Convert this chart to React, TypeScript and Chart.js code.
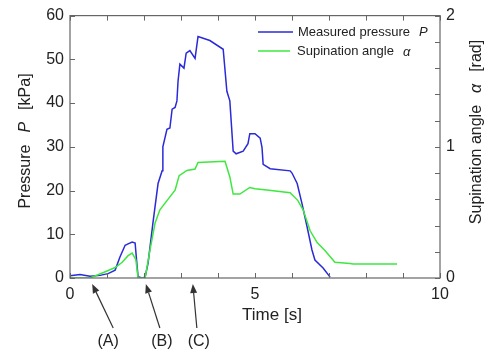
import React, { useEffect, useRef } from "react";
import { Chart, registerables } from "chart.js";

Chart.register(...registerables);

// Measured pressure P [kPa] vs time [s]
const timeP = [0, 0.27, 0.54, 0.81, 1.03, 1.22, 1.35, 1.49, 1.57, 1.68, 1.76, 1.81, 1.84, 1.95, 2.03, 2.11, 2.24, 2.38, 2.49, 2.51, 2.62, 2.7, 2.76, 2.84, 2.89, 2.92, 2.97, 3.08, 3.14, 3.24, 3.38, 3.46, 3.78, 4.14, 4.24, 4.32, 4.41, 4.49, 4.68, 4.81, 4.86, 5.0, 5.14, 5.19, 5.22, 5.41, 5.95, 6.0, 6.14, 6.27, 6.41, 6.54, 6.62, 6.84, 7.03];
const pressure = [0.5, 0.8, 0.4, 0.6, 1.0, 1.8, 4.8, 7.5, 7.8, 8.2, 8.0, 3.0, 0.3, 0.0, 0.2, 3.4, 12.5, 21.6, 24.5, 30, 34, 34.3, 38.6, 39, 40.5, 45, 48.9, 48, 51.4, 52, 50.2, 55.2, 54.3, 52.3, 42.7, 40.5, 29, 28.4, 29, 30.7, 33, 33, 32, 29.8, 26, 25, 24.5, 24, 21.6, 17, 11.6, 6.4, 4.1, 2.3, 0.2];

// Supination angle alpha [rad] vs time [s]
const timeA = [0, 0.54, 0.89, 1.22, 1.41, 1.57, 1.68, 1.78, 1.84, 2.03, 2.16, 2.3, 2.43, 2.62, 2.84, 2.95, 3.16, 3.38, 3.46, 4.19, 4.32, 4.41, 4.59, 4.86, 5.0, 5.32, 5.95, 6.16, 6.3, 6.49, 6.68, 6.89, 7.16, 7.57, 7.65, 8.84];
const angle = [0.0, 0.0, 0.04, 0.08, 0.12, 0.17, 0.19, 0.14, 0.0, 0.0, 0.21, 0.42, 0.52, 0.59, 0.67, 0.78, 0.82, 0.83, 0.88, 0.89, 0.77, 0.64, 0.64, 0.69, 0.68, 0.67, 0.65, 0.59, 0.52, 0.36, 0.27, 0.21, 0.12, 0.11, 0.106, 0.106];

const xLabelled = [0, 5, 10];
const annotLabels = ["(A)", "(B)", "(C)"];
const annotTimes = [0.6, 2.05, 3.32];

const BLUE = "#2a2ad8";
const GREEN = "#3ee83e";
const FONT = "'Liberation Sans', Arial, sans-serif";

const isInt = (v: number) => Math.abs(v - Math.round(v)) < 1e-6;

const decor = {
  id: "decor",
  afterDraw(chart: any) {
    const ctx = chart.ctx as CanvasRenderingContext2D;
    const { left, right, top, bottom } = chart.chartArea;
    const xs = chart.scales.x;
    const ys = chart.scales.y;
    const y1 = chart.scales.y1;
    ctx.save();
    // frame
    ctx.strokeStyle = "#666";
    ctx.lineWidth = 1.2;
    ctx.strokeRect(left, top, right - left, bottom - top);
    // inner ticks
    ctx.lineWidth = 1;
    ctx.beginPath();
    xs.ticks.forEach((t: any) => {
      const px = Math.round(xs.getPixelForValue(t.value)) + 0.5;
      ctx.moveTo(px, bottom); ctx.lineTo(px, bottom - 5);
      ctx.moveTo(px, top); ctx.lineTo(px, top + 5);
    });
    ys.ticks.forEach((t: any) => {
      const py = Math.round(ys.getPixelForValue(t.value)) + 0.5;
      ctx.moveTo(left, py); ctx.lineTo(left + 5, py);
    });
    y1.ticks.forEach((t: any) => {
      const py = Math.round(y1.getPixelForValue(t.value)) + 0.5;
      ctx.moveTo(right, py); ctx.lineTo(right - 5, py);
    });
    ctx.stroke();

    // legend
    ctx.lineWidth = 1.5;
    ctx.strokeStyle = BLUE;
    ctx.beginPath(); ctx.moveTo(258, 32); ctx.lineTo(293, 32); ctx.stroke();
    ctx.strokeStyle = GREEN;
    ctx.beginPath(); ctx.moveTo(258, 51); ctx.lineTo(290, 51); ctx.stroke();
    ctx.fillStyle = "#222";
    ctx.textBaseline = "middle";
    ctx.textAlign = "left";
    ctx.font = `13px ${FONT}`;
    ctx.fillText("Measured pressure", 298, 32);
    ctx.fillText("Supination angle", 297, 51);
    ctx.font = `italic 13px ${FONT}`;
    ctx.fillText("P", 419, 32);
    ctx.fillText("α", 403, 52);

    // x title
    ctx.font = `17px ${FONT}`;
    ctx.textAlign = "center";
    ctx.fillText("Time [s]", 272, 315);

    // left title (rotated)
    const drawRot = (cx: number, cy: number, parts: [string, boolean][], gap: number) => {
      ctx.save();
      ctx.translate(cx, cy);
      ctx.rotate(-Math.PI / 2);
      ctx.textAlign = "left";
      let total = 0;
      const widths = parts.map(([s, it]) => {
        ctx.font = `${it ? "italic " : ""}16px ${FONT}`;
        const w = ctx.measureText(s).width;
        total += w;
        return w;
      });
      total += gap * (parts.length - 1);
      let x = -total / 2;
      parts.forEach(([s, it], i) => {
        ctx.font = `${it ? "italic " : ""}16px ${FONT}`;
        ctx.fillText(s, x, 0);
        x += widths[i] + gap;
      });
      ctx.restore();
    };
    drawRot(26, 141, [["Pressure", false], ["P", true], ["[kPa]", false]], 12);
    drawRot(477, 132, [["Supination angle", false], ["α", true], ["[rad]", false]], 12);

    // annotation arrows
    ctx.strokeStyle = "#333";
    ctx.fillStyle = "#333";
    ctx.lineWidth = 1.2;
    const tailDx = [21, 14, 4];
    const labelDx = [16, 16, 6];
    annotTimes.forEach((t, i) => {
      const tipX = xs.getPixelForValue(t);
      const tipY = bottom + 6;
      const tailX = tipX + tailDx[i];
      const tailY = 328;
      const ang = Math.atan2(tipY - tailY, tipX - tailX);
      const hl = 9, hw = 3.5;
      const bx = tipX - hl * Math.cos(ang), by = tipY - hl * Math.sin(ang);
      ctx.beginPath(); ctx.moveTo(tailX, tailY); ctx.lineTo(bx, by); ctx.stroke();
      ctx.beginPath();
      ctx.moveTo(tipX, tipY);
      ctx.lineTo(bx + hw * Math.sin(ang), by - hw * Math.cos(ang));
      ctx.lineTo(bx - hw * Math.sin(ang), by + hw * Math.cos(ang));
      ctx.closePath(); ctx.fill();
      ctx.font = `16px ${FONT}`;
      ctx.textAlign = "center";
      ctx.fillStyle = "#222";
      ctx.fillText(annotLabels[i], tipX + labelDx[i], 342);
      ctx.fillStyle = "#333";
    });
    ctx.restore();
  },
};

export default function App() {
  const ref = useRef<HTMLCanvasElement>(null);
  useEffect(() => {
    if (!ref.current) return;
    const chart = new Chart(ref.current, {
      type: "line",
      data: {
        datasets: [
          {
            label: "Supination angle α",
            data: timeA.map((t, i) => ({ x: t, y: angle[i] })),
            yAxisID: "y1",
            borderColor: GREEN,
            borderWidth: 1.5,
            pointRadius: 0,
            tension: 0,
          },
          {
            label: "Measured pressure P",
            data: timeP.map((t, i) => ({ x: t, y: pressure[i] })),
            yAxisID: "y",
            borderColor: BLUE,
            borderWidth: 1.5,
            pointRadius: 0,
            tension: 0,
          },
        ],
      },
      options: {
        responsive: false,
        animation: false,
        layout: { padding: { top: 14, left: 0, right: 0, bottom: 0 } },
        plugins: { legend: { display: false }, tooltip: { enabled: false } },
        scales: {
          x: {
            type: "linear",
            min: 0,
            max: 10,
            grid: { display: false, drawTicks: false },
            border: { display: false },
            afterFit: (s: any) => { s.height = 78; },
            ticks: {
              stepSize: 1,
              autoSkip: false,
              maxRotation: 0,
              padding: 7,
              color: "#222",
              font: { size: 16, family: FONT },
              callback: (v: any) => (xLabelled.includes(Math.round(v)) && isInt(v) ? String(Math.round(v)) : ""),
            },
          },
          y: {
            position: "left",
            min: 0,
            max: 60,
            grid: { display: false, drawTicks: false },
            border: { display: false },
            afterFit: (s: any) => { s.width = 70; },
            ticks: { stepSize: 10, padding: 6, color: "#222", font: { size: 16, family: FONT } },
          },
          y1: {
            position: "right",
            min: 0,
            max: 2,
            grid: { display: false, drawTicks: false },
            border: { display: false },
            afterFit: (s: any) => { s.width = 44; },
            ticks: {
              stepSize: 0.2,
              autoSkip: false,
              padding: 6,
              color: "#222",
              font: { size: 16, family: FONT },
              callback: (v: any) => (isInt(v) ? String(Math.round(v)) : ""),
            },
          },
        },
      },
      plugins: [decor],
    } as any);
    return () => chart.destroy();
  }, []);
  return (
    <div style={{ position: "absolute", left: 0, top: 0, width: 484, height: 356, background: "#fff" }}>
      <canvas ref={ref} width={484} height={356} style={{ width: 484, height: 356 }} />
    </div>
  );
}
